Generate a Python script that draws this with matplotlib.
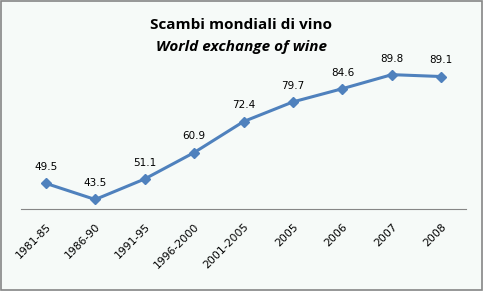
import matplotlib
matplotlib.use("Agg")
import matplotlib.pyplot as plt
from matplotlib.patches import Rectangle

categories = ["1981-85", "1986-90", "1991-95", "1996-2000", "2001-2005", "2005", "2006", "2007", "2008"]
values = [49.5, 43.5, 51.1, 60.9, 72.4, 79.7, 84.6, 89.8, 89.1]
value_labels = ["49.5", "43.5", "51.1", "60.9", "72.4", "79.7", "84.6", "89.8", "89.1"]

bg = "#F6FAF8"
fig = plt.figure(figsize=(4.83, 2.91), dpi=100, facecolor=bg)
ax = fig.add_axes([0.0435, 0.282, 0.9215, 0.556])
ax.set_facecolor(bg)

x = list(range(len(categories)))
ax.plot(x, values, color="#4F81BD", lw=2.2, marker="D", ms=5, zorder=3)
for xi, v, lab in zip(x, values, value_labels):
    ax.annotate(lab, (xi, v), xytext=(0, 8), textcoords="offset points",
                ha="center", va="bottom", fontsize=7.5, color="#000000",
                family="DejaVu Sans")

ax.set_xlim(-0.5, len(categories) - 0.5)
ax.set_ylim(40, 100)
ax.set_xticks(x)
ax.set_xticklabels(categories, rotation=45, ha="right", rotation_mode="anchor",
                   fontsize=7.8, family="DejaVu Sans")
ax.tick_params(axis="x", length=0, pad=9)
ax.set_yticks([])
for s in ["top", "right", "left"]:
    ax.spines[s].set_visible(False)
ax.spines["bottom"].set_color("#868686")
ax.spines["bottom"].set_linewidth(0.8)

fig.text(0.5, 0.915, "Scambi mondiali di vino", ha="center", va="center",
         fontsize=11, fontweight="bold", family="Open Sans")
fig.text(0.5, 0.84, "World exchange of wine", ha="center", va="center",
         fontsize=11, fontweight="bold", style="italic", family="Open Sans")

fig.add_artist(Rectangle((0.003, 0.004), 0.994, 0.992, transform=fig.transFigure,
                         fill=False, edgecolor="#868686", lw=1.2))

fig.savefig("out.png", dpi=100, facecolor=bg)
